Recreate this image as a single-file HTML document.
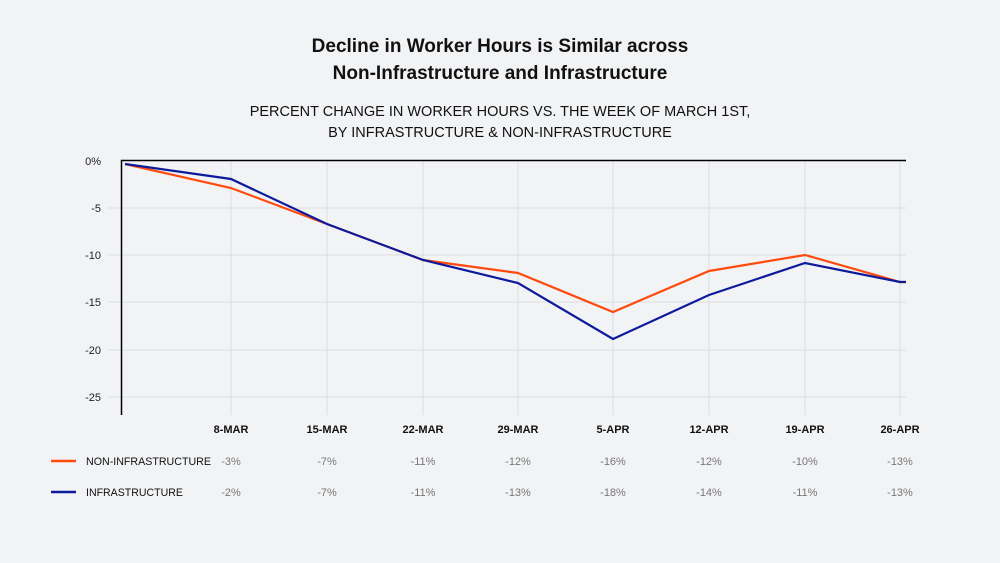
<!DOCTYPE html>
<html><head><style>
body{margin:0;background:#f2f3f5;font-family:"Liberation Sans",sans-serif;}
</style></head><body>
<svg width="1000" height="563" xmlns="http://www.w3.org/2000/svg" style="display:block">
<rect width="1000" height="563" fill="#f2f3f5"/>
<g font-family="Liberation Sans, sans-serif" text-anchor="middle" fill="#111">
<text x="500" y="52" font-size="19" font-weight="bold">Decline in Worker Hours is Similar across</text>
<text x="500" y="79" font-size="19" font-weight="bold">Non-Infrastructure and Infrastructure</text>
<text x="500" y="116" font-size="14.5">PERCENT CHANGE IN WORKER HOURS VS. THE WEEK OF MARCH 1ST,</text>
<text x="500" y="137" font-size="14.5">BY INFRASTRUCTURE &amp; NON-INFRASTRUCTURE</text>
</g>
<g stroke="#dcdde0" stroke-width="1">
<line x1="108" y1="208" x2="906" y2="208"/><line x1="108" y1="255" x2="906" y2="255"/>
<line x1="108" y1="302" x2="906" y2="302"/><line x1="108" y1="350" x2="906" y2="350"/>
<line x1="108" y1="397" x2="906" y2="397"/>
<line x1="231" y1="161" x2="231" y2="415"/><line x1="327" y1="161" x2="327" y2="415"/>
<line x1="423" y1="161" x2="423" y2="415"/><line x1="518" y1="161" x2="518" y2="415"/>
<line x1="613" y1="161" x2="613" y2="415"/><line x1="709" y1="161" x2="709" y2="415"/>
<line x1="805" y1="161" x2="805" y2="415"/><line x1="900" y1="161" x2="900" y2="415"/>
</g>
<path d="M121.5 415 V160.5 H906" fill="none" stroke="#000" stroke-width="1.5"/>
<g font-size="11" fill="#222" text-anchor="end">
<text x="101" y="165">0%</text><text x="101" y="212">-5</text><text x="101" y="259">-10</text>
<text x="101" y="306">-15</text><text x="101" y="354">-20</text><text x="101" y="401">-25</text>
</g>
<polyline points="125,164 231,188 327,224 423,260 518,273 613,312 709,271 805,255 900,282 906,282" fill="none" stroke="#ff4a0d" stroke-width="2.2"/>
<polyline points="125,164 231,179 327,224 423,260 518,283 613,339 709,295 805,263 900,282 906,282" fill="none" stroke="#0d1a9c" stroke-width="2.2"/>
<g font-size="11" font-weight="bold" fill="#111" text-anchor="middle">
<text x="231" y="433">8-MAR</text><text x="327" y="433">15-MAR</text><text x="423" y="433">22-MAR</text>
<text x="518" y="433">29-MAR</text><text x="613" y="433">5-APR</text><text x="709" y="433">12-APR</text>
<text x="805" y="433">19-APR</text><text x="900" y="433">26-APR</text>
</g>
<line x1="51" y1="461" x2="76" y2="461" stroke="#ff4a0d" stroke-width="2.5"/>
<line x1="51" y1="492" x2="76" y2="492" stroke="#0d1a9c" stroke-width="2.5"/>
<g font-size="11" fill="#111">
<text x="86" y="465" textLength="125" lengthAdjust="spacingAndGlyphs">NON-INFRASTRUCTURE</text><text x="86" y="496" textLength="97" lengthAdjust="spacingAndGlyphs">INFRASTRUCTURE</text>
</g>
<g font-size="11" fill="#777" text-anchor="middle">
<text x="231" y="465">-3%</text><text x="327" y="465">-7%</text><text x="423" y="465">-11%</text>
<text x="518" y="465">-12%</text><text x="613" y="465">-16%</text><text x="709" y="465">-12%</text>
<text x="805" y="465">-10%</text><text x="900" y="465">-13%</text>
<text x="231" y="496">-2%</text><text x="327" y="496">-7%</text><text x="423" y="496">-11%</text>
<text x="518" y="496">-13%</text><text x="613" y="496">-18%</text><text x="709" y="496">-14%</text>
<text x="805" y="496">-11%</text><text x="900" y="496">-13%</text>
</g>
</svg>
</body></html>
